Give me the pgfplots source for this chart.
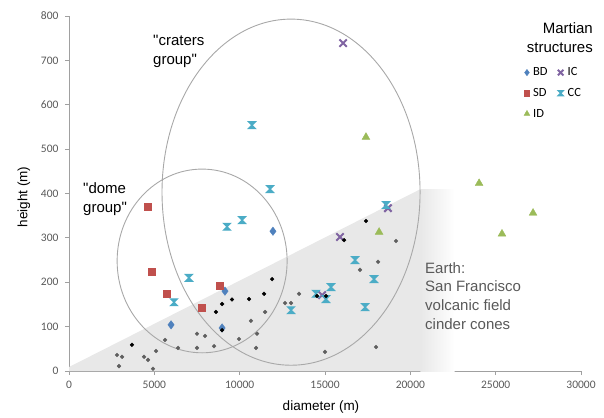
\documentclass[border=0pt]{standalone}
\usepackage{pgfplots}
\pgfplotsset{compat=1.18}
\usepackage{fontspec}
\setmainfont{Liberation Sans}[Ligatures=TeXOff]
\newfontfamily\calibri{Carlito}
\definecolor{cBD}{HTML}{4F81BD}
\definecolor{cSD}{HTML}{C0504D}
\definecolor{cID}{HTML}{9BBB59}
\definecolor{cIC}{HTML}{8064A2}
\definecolor{cCC}{HTML}{4BACC6}
\definecolor{dotgray}{HTML}{5F5F5F}
\definecolor{axisgray}{HTML}{A0A0A0}
\definecolor{ticktext}{HTML}{595959}
\definecolor{regiongray}{HTML}{E8E8E8}
\definecolor{ellgray}{HTML}{A8A8A8}
\pgfdeclareplotmark{hourglass}{%
  \pgfpathmoveto{\pgfqpoint{-\pgfplotmarksize}{\pgfplotmarksize}}%
  \pgfpathlineto{\pgfqpoint{\pgfplotmarksize}{\pgfplotmarksize}}%
  \pgfpathlineto{\pgfqpoint{-\pgfplotmarksize}{-\pgfplotmarksize}}%
  \pgfpathlineto{\pgfqpoint{\pgfplotmarksize}{-\pgfplotmarksize}}%
  \pgfpathclose
  \pgfusepathqfillstroke}
\begin{document}
\begin{tikzpicture}[x=1pt,y=1pt]
\path[use as bounding box] (0,0) rectangle (604,417);
\begin{axis}[
  at={(69pt,46pt)}, anchor=south west,
  scale only axis, width=512pt, height=355pt,
  xmin=0, xmax=30000, ymin=0, ymax=800,
  xtick={0,5000,...,30000}, ytick={0,100,...,800},
  scaled x ticks=false, scaled y ticks=false,
  axis x line*=bottom, axis y line*=left,
  axis line style={draw=axisgray, line width=0.8pt, -},
  tick style={draw=axisgray, line width=0.8pt},
  tick align=outside, major tick length=4pt,
  /pgf/number format/set thousands separator={},
  /pgf/number format/assume math mode=true,
  ticklabel style={font=\calibri\fontsize{11.5}{13}\selectfont, text=ticktext},
  xticklabel style={yshift=-3pt},
  yticklabel style={xshift=-3pt},
  legend columns=2,
  legend style={at={(0.880,0.866)}, anchor=north west, draw=none, fill=none,
    font=\calibri\fontsize{12.5}{14}\selectfont, row sep=7pt,
    /tikz/every even column/.append style={column sep=6pt}},
  legend cell align=left,
  legend image code/.code={\path (-4pt,0pt) (4pt,0pt); \draw[#1] plot coordinates {(0pt,0pt)};},
  every legend image post/.style={mark options={scale=0.75}},
]
\fill[regiongray] (axis cs:0,0) -- (axis cs:0,9) -- (axis cs:20600,410) -- (axis cs:20600,0) -- cycle;
\fill[left color=regiongray, right color=white] (axis cs:20590,0) rectangle (axis cs:22600,408);
\draw[ellgray, line width=0.9pt] (axis cs:7800,248) ellipse [x radius=4980, y radius=207];
\draw[ellgray, line width=0.9pt] (axis cs:13010,403) ellipse [x radius=7560, y radius=390];

\addplot[only marks, mark=diamond*, mark size=4.2pt, color=cBD] coordinates {
(5980,104) (9140,180) (8970,97) (11950,315)};
\addlegendentry{BD}
\addplot[only marks, mark=x, mark size=5.2pt, line width=2pt, color=cIC] coordinates {
(16060,739) (15880,302) (18690,367) (14830,171)};
\addlegendentry{IC}
\addplot[only marks, mark=square*, mark size=3.4pt, color=cSD] coordinates {
(4630,370) (4860,223) (5740,174) (7790,142) (8850,192)};
\addlegendentry{SD}
\addplot[only marks, mark=hourglass, mark size=3.3pt, line width=1.3pt, color=cCC] coordinates {
(10720,554) (11780,410) (10140,340) (9260,325) (7030,210) (6150,155) (13010,137)
(18580,374) (16760,250) (17870,207) (17350,144) (15350,189) (14470,174) (15060,162)};
\addlegendentry{CC}
\addplot[only marks, mark=triangle*, mark size=4.5pt, color=cID] coordinates {
(17400,527) (18170,313) (24030,423) (25370,309) (27190,356)};
\addlegendentry{ID}

\addplot[only marks, mark=*, mark size=1.9pt, color=dotgray, forget plot] coordinates {
(2810,36) (3110,32) (2930,11) (4400,32) (4630,25) (4920,5) (5100,45) (5630,70) (6390,52)
(11490,133) (10660,113) (11020,84) (9960,72) (10960,52) (7500,84) (7970,79) (7500,52) (8500,56)
(12660,153) (13010,153) (13480,174) (19160,293) (18110,246) (17050,228) (15000,43) (17990,54)};
\addplot[only marks, mark=*, mark size=1.9pt, color=black, forget plot] coordinates {
(3690,59) (11900,207) (11430,174) (10550,162) (9550,161) (8970,151) (8610,133) (8970,92)
(17400,338) (16120,295) (14530,169) (15060,169)};
\end{axis}
\node[anchor=north west, inner sep=0pt, align=left, font=\fontsize{15}{19}\selectfont] at (153,382) {"craters\\group"};
\node[anchor=north west, inner sep=0pt, align=left, font=\fontsize{15}{19}\selectfont] at (83,235) {"dome\\group"};
\node[anchor=north west, inner sep=0pt, align=left, text=ticktext, font=\fontsize{15}{18.7}\selectfont] at (425,155) {Earth:\\San Francisco\\volcanic field\\cinder cones};
\node[anchor=north east, inner sep=0pt, align=right, font=\fontsize{15}{19}\selectfont] at (593,395) {Martian\\structures};
\node[font=\fontsize{13.5}{16}\selectfont] at (321,10) {diameter (m)};
\node[font=\fontsize{13.5}{16}\selectfont, rotate=90] at (24,220) {height (m)};
\end{tikzpicture}
\end{document}
